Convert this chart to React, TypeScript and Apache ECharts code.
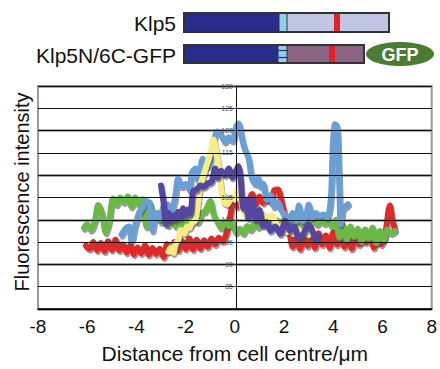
import React, { useEffect, useRef } from "react";
import * as echarts from "echarts";

const xTicks = [-8, -6, -4, -2, 0, 2, 4, 6, 8];
const yTicks = [85, 90, 95, 100, 105, 110, 115, 120, 125, 130];

const redData: [number, number][] = [
  [-6.05, 94.2], [-5.9, 93.5], [-5.75, 95.0], [-5.6, 93.2], [-5.45, 94.8], [-5.3, 93.0], [-5.15, 95.2],
  [-5.0, 93.3], [-4.85, 95.5], [-4.7, 93.2], [-4.55, 94.5], [-4.4, 92.7], [-4.25, 94.3], [-4.1, 92.3],
  [-3.95, 93.8], [-3.8, 92.5], [-3.65, 94.3], [-3.5, 92.2], [-3.35, 93.7], [-3.2, 92.4], [-3.05, 93.5],
  [-2.9, 91.7], [-2.75, 94.5], [-2.6, 93.0], [-2.45, 95.0], [-2.3, 93.2], [-2.15, 95.3], [-2.0, 93.5],
  [-1.85, 95.8], [-1.7, 93.4], [-1.55, 95.5], [-1.4, 93.6], [-1.25, 95.4], [-1.1, 94.0], [-0.95, 95.8],
  [-0.8, 94.5], [-0.65, 96.0], [-0.5, 95.2], [-0.35, 96.8], [-0.2, 100.5], [-0.05, 104.0], [0.1, 103.0],
  [0.25, 104.5], [0.4, 102.6], [0.55, 104.0], [0.7, 105.8], [0.85, 103.5], [1.0, 105.2], [1.15, 103.8],
  [1.3, 105.0], [1.45, 104.0], [1.6, 106.6], [1.75, 106.8], [1.9, 104.0], [2.05, 100.8], [2.2, 98.0],
  [2.35, 94.0], [2.5, 96.5], [2.65, 93.5], [2.8, 96.8], [2.95, 94.2], [3.1, 96.8], [3.25, 93.8],
  [3.4, 97.0], [3.55, 94.5], [3.7, 96.5], [3.85, 93.8], [4.0, 97.2], [4.15, 94.5], [4.3, 96.8],
  [4.45, 94.0], [4.6, 96.5], [4.75, 93.6], [4.9, 96.8], [5.05, 94.5], [5.2, 97.0], [5.35, 95.0],
  [5.5, 96.5], [5.65, 93.8], [5.8, 96.2], [5.95, 94.5], [6.1, 96.5], [6.3, 103.2], [6.4, 100.0], [6.5, 98.0],
];

const greenData: [number, number][] = [
  [-6.13, 98.2], [-6.0, 99.0], [-5.85, 97.8], [-5.7, 99.5], [-5.55, 103.3], [-5.4, 101.5], [-5.25, 97.2],
  [-5.1, 100.0], [-4.95, 104.8], [-4.8, 103.5], [-4.65, 105.0], [-4.5, 104.0], [-4.35, 105.2], [-4.2, 103.0],
  [-4.05, 105.0], [-3.9, 103.5], [-3.75, 104.6], [-3.6, 98.5], [-3.45, 103.8], [-3.3, 100.5], [-3.15, 101.5],
  [-3.0, 99.5], [-2.85, 101.0], [-2.7, 98.8], [-2.55, 100.5], [-2.4, 98.6], [-2.25, 100.2], [-2.1, 98.4],
  [-1.95, 100.5], [-1.8, 99.0], [-1.65, 101.8], [-1.5, 99.5], [-1.35, 101.5], [-1.2, 102.0], [-1.0, 104.2],
  [-0.85, 101.0], [-0.7, 99.5], [-0.55, 98.2], [-0.4, 99.5], [-0.25, 98.6], [-0.1, 99.3], [0.05, 97.2],
  [0.2, 98.0], [0.35, 97.0], [0.5, 98.6], [0.65, 97.8], [0.8, 99.3], [0.95, 98.4], [1.1, 99.8],
  [1.25, 98.8], [1.4, 99.6], [1.55, 98.7], [1.7, 99.9], [1.85, 99.0], [2.0, 100.0], [2.15, 99.0],
  [2.3, 100.2], [2.45, 98.8], [2.6, 100.0], [2.75, 98.9], [2.9, 100.3], [3.05, 99.2], [3.2, 100.0],
  [3.35, 99.0], [3.5, 100.2], [3.65, 99.2], [3.8, 100.0], [3.95, 98.5], [4.1, 100.0], [4.25, 96.0],
  [4.4, 98.8], [4.55, 95.5], [4.7, 98.5], [4.85, 96.2], [5.0, 98.0], [5.15, 95.0], [5.3, 97.8],
  [5.45, 95.8], [5.6, 98.2], [5.75, 94.8], [5.9, 97.5], [6.05, 95.5], [6.2, 97.8], [6.35, 97.0], [6.5, 97.5],
];

const blueData: [number, number][] = [
  [-4.6, 96.7], [-4.45, 98.0], [-4.3, 98.5], [-4.2, 95.3], [-4.05, 98.8], [-3.9, 101.5], [-3.75, 102.8],
  [-3.6, 104.2], [-3.45, 103.5], [-3.35, 97.6], [-3.2, 101.5], [-3.05, 100.2], [-2.9, 103.0], [-2.75, 103.5],
  [-2.6, 102.2], [-2.45, 104.3], [-2.3, 109.3], [-2.15, 107.5], [-2.0, 108.0], [-1.85, 106.8], [-1.75, 110.5],
  [-1.6, 111.5], [-1.5, 109.0], [-1.3, 113.7], [-1.15, 111.8], [-1.0, 113.0], [-0.87, 117.4], [-0.7, 119.8],
  [-0.55, 119.0], [-0.4, 117.5], [-0.25, 118.5], [-0.1, 117.8], [0.06, 121.0], [0.15, 121.6], [0.3, 118.0],
  [0.4, 115.9], [0.55, 114.0], [0.7, 109.2], [0.85, 108.0], [0.95, 109.3], [1.05, 107.5], [1.15, 108.1],
  [1.3, 104.5], [1.45, 105.5], [1.6, 103.0], [1.75, 104.0], [1.9, 102.0], [2.05, 101.1], [2.2, 100.0],
  [2.35, 101.5], [2.5, 99.8], [2.6, 103.2], [2.75, 99.7], [2.9, 101.0], [3.0, 103.4], [3.15, 100.5],
  [3.3, 101.5], [3.45, 100.8], [3.6, 101.2], [3.75, 100.5], [3.9, 104.8], [3.98, 116.5], [4.07, 121.4],
  [4.15, 121.0], [4.2, 115.3], [4.25, 106.6], [4.3, 99.0], [4.4, 102.6], [4.5, 103.0], [4.6, 103.5],
];

const yellowData: [number, number][] = [
  [-2.7, 92.9], [-2.6, 93.8], [-2.5, 92.6], [-2.4, 94.7], [-2.3, 95.5], [-2.2, 97.7], [-2.05, 97.0],
  [-1.95, 98.5], [-1.85, 98.2], [-1.75, 99.2], [-1.6, 100.0], [-1.5, 104.0], [-1.4, 107.7], [-1.25, 110.5],
  [-1.07, 113.6], [-0.95, 116.0], [-0.87, 118.0], [-0.75, 115.0], [-0.65, 111.5], [-0.55, 106.4], [-0.45, 104.0],
  [-0.3, 103.5], [-0.15, 105.0], [0.0, 104.5], [0.15, 108.0], [0.3, 103.0], [0.45, 101.0], [0.6, 102.0],
  [0.75, 100.8], [0.9, 101.5], [1.05, 100.5], [1.2, 101.2], [1.35, 100.3], [1.5, 101.0], [1.65, 99.5],
  [1.8, 98.0], [1.95, 99.0], [2.1, 97.2], [2.25, 98.0], [2.4, 96.8], [2.55, 97.8], [2.7, 96.5],
  [2.85, 97.2], [3.0, 96.6],
];

const purpleData: [number, number][] = [
  [-3.0, 107.7], [-2.9, 104.0], [-2.8, 99.0], [-2.7, 101.5], [-2.6, 99.7], [-2.5, 101.0], [-2.4, 100.0],
  [-2.3, 101.8], [-2.2, 100.4], [-2.1, 102.6], [-2.0, 101.0], [-1.9, 102.3], [-1.8, 101.5], [-1.7, 106.4],
  [-1.55, 106.8], [-1.4, 107.7], [-1.25, 107.4], [-1.1, 108.2], [-0.95, 108.5], [-0.8, 111.5], [-0.7, 109.5],
  [-0.55, 111.0], [-0.4, 110.0], [-0.25, 111.5], [-0.1, 109.5], [0.05, 111.0], [0.14, 112.0], [0.22, 110.0],
  [0.35, 102.6], [0.45, 104.5], [0.55, 100.4], [0.7, 104.8], [0.85, 100.0], [1.0, 102.2], [1.15, 98.6],
  [1.3, 99.5], [1.45, 97.5], [1.65, 98.5], [1.85, 96.8], [2.05, 99.8], [2.25, 97.6], [2.4, 98.5],
  [2.6, 96.0], [2.8, 97.0], [3.0, 99.0], [3.15, 97.5], [3.3, 95.5], [3.4, 96.5],
];

const FONT = "Liberation Sans, Arial, Helvetica, sans-serif";
const GRID_LEFT = 38;
const GRID_RIGHT = 6;
const WIDTH = 440;

function lineSeries(name: string, data: [number, number][], color: string) {
  return {
    name,
    type: "line",
    data,
    showSymbol: false,
    symbol: "none",
    smooth: 0.3,
    lineStyle: {
      color,
      width: 6,
      cap: "round",
      join: "round",
      shadowColor: "rgba(70,70,70,0.55)",
      shadowBlur: 1,
      shadowOffsetX: 1,
      shadowOffsetY: 2,
    },
    z: 3,
  };
}

export default function App() {
  const ref = useRef<HTMLDivElement>(null);
  useEffect(() => {
    if (!ref.current) return;
    const chart = echarts.init(ref.current, null, { renderer: "svg" });
    const plotW = WIDTH - GRID_LEFT - GRID_RIGHT;
    const yAxisOffset = -plotW / 2; // move the y axis to x = 0
    const option: any = {
      animation: false,
      backgroundColor: "#fff",
      grid: {
        left: GRID_LEFT,
        right: GRID_RIGHT,
        top: 86,
        bottom: 59,
        show: true,
        borderColor: "#999",
        borderWidth: 2,
        backgroundColor: "#fff",
      },
      xAxis: {
        type: "value",
        min: -8,
        max: 8,
        interval: 2,
        axisLine: { lineStyle: { color: "#000", width: 1.5 }, onZero: false },
        axisTick: { show: false },
        splitLine: { show: false },
        axisLabel: {
          color: "#111",
          fontSize: 19,
          fontFamily: FONT,
          margin: 8,
          formatter: (v: number) => (xTicks.includes(v) ? String(v) : ""),
        },
        name: "Distance from cell centre/\u03bcm",
        nameLocation: "middle",
        nameGap: 34,
        nameTextStyle: { color: "#111", fontSize: 21, fontFamily: FONT },
        z: 5,
      },
      yAxis: [
        {
          type: "value",
          min: 80,
          max: 130,
          interval: 5,
          position: "left",
          offset: yAxisOffset,
          axisLine: { show: true, onZero: false, lineStyle: { color: "#111", width: 1 } },
          axisTick: { show: true, length: 3, lineStyle: { color: "#333" } },
          axisLabel: {
            color: "#555",
            fontSize: 7,
            fontFamily: FONT,
            margin: 3,
            formatter: (v: number) => (yTicks.includes(v) ? String(v) : ""),
          },
          splitLine: { show: true, lineStyle: { color: "#111", width: 1.2 } },
          z: 4,
        },
        {
          type: "value",
          min: 80,
          max: 130,
          interval: 10,
          position: "left",
          axisLine: { show: false },
          axisTick: { show: false },
          axisLabel: { show: false },
          splitLine: { show: true, lineStyle: { color: "#8c8c8c", width: 2.5 } },
        },
      ],
      series: [
        lineSeries("red", redData, "#e02a2a"),
        lineSeries("green", greenData, "#6bb944"),
        lineSeries("blue", blueData, "#6b9fd6"),
        lineSeries("yellow", yellowData, "#f7ec86"),
        lineSeries("purple", purpleData, "#5447a1"),
      ],
      graphic: [
        {
          type: "text",
          x: 22,
          y: 192,
          rotation: Math.PI / 2,
          style: {
            text: "Fluorescence intensity",
            fontSize: 20,
            fontFamily: FONT,
            fill: "#111",
            align: "center",
            verticalAlign: "middle",
          },
        },
        {
          type: "text",
          x: 176,
          y: 23,
          style: { text: "Klp5", fontSize: 21, fontFamily: FONT, fill: "#111", align: "right", verticalAlign: "middle" },
        },
        {
          type: "text",
          x: 176,
          y: 55,
          style: { text: "Klp5N/6C-GFP", fontSize: 21, fontFamily: FONT, fill: "#111", align: "right", verticalAlign: "middle" },
        },
        // Klp5 bar
        { type: "rect", shape: { x: 184, y: 13, width: 95, height: 19 }, style: { fill: "#282c8c" } },
        { type: "rect", shape: { x: 279, y: 13, width: 8, height: 19 }, style: { fill: "#8dcfee" } },
        { type: "rect", shape: { x: 287, y: 13, width: 102, height: 19 }, style: { fill: "#c2c6e5" } },
        { type: "rect", shape: { x: 334, y: 13, width: 6, height: 19 }, style: { fill: "#e8202a" } },
        { type: "line", shape: { x1: 279, y1: 13, x2: 279, y2: 32 }, style: { stroke: "#333", lineWidth: 1 } },
        { type: "line", shape: { x1: 287, y1: 13, x2: 287, y2: 32 }, style: { stroke: "#333", lineWidth: 1 } },
        { type: "rect", shape: { x: 184, y: 13, width: 205, height: 19 }, style: { fill: "none", stroke: "#333", lineWidth: 2 } },
        // Klp5N/6C-GFP bar
        { type: "rect", shape: { x: 184, y: 45, width: 94, height: 18 }, style: { fill: "#282c8c" } },
        { type: "rect", shape: { x: 278, y: 45, width: 9, height: 18 }, style: { fill: "#8dcfee" } },
        { type: "line", shape: { x1: 278, y1: 50.5, x2: 287, y2: 50.5 }, style: { stroke: "#282c8c", lineWidth: 1.2 } },
        { type: "line", shape: { x1: 278, y1: 57.5, x2: 287, y2: 57.5 }, style: { stroke: "#282c8c", lineWidth: 1.2 } },
        { type: "rect", shape: { x: 287, y: 45, width: 77, height: 18 }, style: { fill: "#8b6383" } },
        { type: "rect", shape: { x: 329, y: 45, width: 6, height: 18 }, style: { fill: "#e8202a" } },
        { type: "line", shape: { x1: 278, y1: 45, x2: 278, y2: 63 }, style: { stroke: "#333", lineWidth: 1 } },
        { type: "line", shape: { x1: 287, y1: 45, x2: 287, y2: 63 }, style: { stroke: "#333", lineWidth: 1 } },
        { type: "rect", shape: { x: 184, y: 45, width: 180, height: 18 }, style: { fill: "none", stroke: "#333", lineWidth: 2 } },
        { type: "ellipse", shape: { cx: 400, cy: 54, rx: 34, ry: 12 }, style: { fill: "#4a7c34" } },
        {
          type: "text",
          x: 400,
          y: 55,
          style: { text: "GFP", fontSize: 18, fontWeight: "bold", fontFamily: FONT, fill: "#fff", align: "center", verticalAlign: "middle" },
        },
      ],
    };
    chart.setOption(option);
    return () => chart.dispose();
  }, []);
  return <div ref={ref} style={{ position: "fixed", left: 0, top: 0, width: WIDTH, height: 369 }} />;
}
